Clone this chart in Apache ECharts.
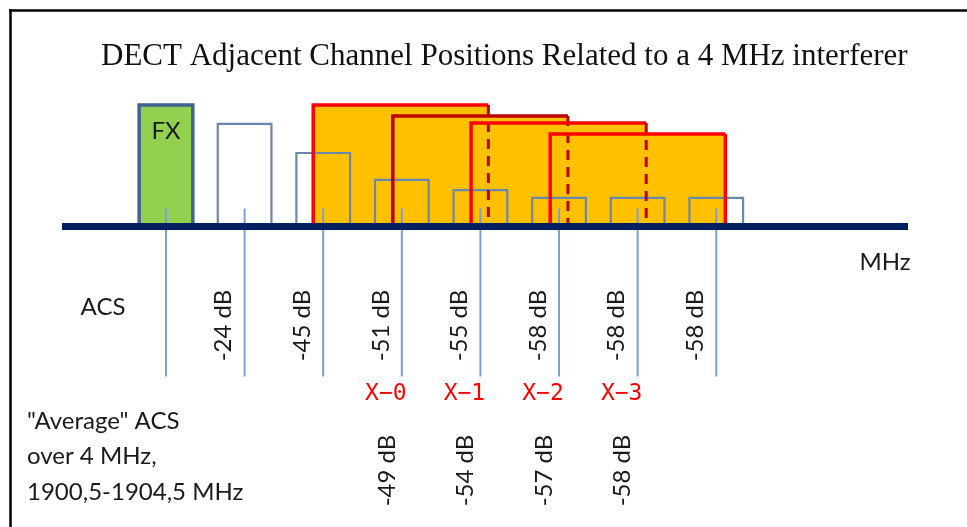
<!DOCTYPE html>
<html>
<head>
<meta charset="utf-8">
<title>DECT Adjacent Channel Positions</title>
<script src="https://cdn.jsdelivr.net/npm/echarts@6/dist/echarts.min.js"></script>
<style>
  html, body { margin: 0; padding: 0; background: #fff; }
  #chart { width: 967px; height: 527px; }
</style>
</head>
<body>
<div id="chart"></div>
<script>
// DECT carriers (MHz): FX plus the adjacent channels above it
const channelFreqs = [1897.344, 1899.072, 1900.800, 1902.528, 1904.256, 1905.984, 1907.712, 1909.440]
// relative drawn level of each channel block (FX = 100)
const channelLevels = [100, 84.4, 60.5, 38.3, 30, 23.5, 23.5, 23.5]
const channelWidth = 1.18
const acsLabels = ['', '-24 dB', '-45 dB', '-51 dB', '-55 dB', '-58 dB', '-58 dB', '-58 dB']

// 4 MHz interferer positions
const interfererNames = ['X\u22120', 'X\u22121', 'X\u22122', 'X\u22123']
const interfererStart = [1900.58, 1902.33, 1904.05, 1905.79]
const interfererWidth = 3.85
const interfererLevels = [100, 90.9, 85.2, 76.1]
const interfererChannel = [3, 4, 5, 6]
const avgAcsLabels = ['-49 dB', '-54 dB', '-57 dB', '-58 dB']

const sansFont = 'Lato, "Liberation Sans", sans-serif'
const textColor = '#1a1a1a'
const blueLine = '#78a0d4'
const boxLine = '#6a88ae'

const chart = echarts.init(document.getElementById('chart'))

// orange fills of the interferers
const renderInterfererFill = (params, api) => {
  const p0 = api.coord([api.value(0), api.value(2)])
  const p1 = api.coord([api.value(1), 0])
  return {
    type: 'rect',
    shape: { x: p0[0], y: p0[1], width: p1[0] - p0[0], height: p1[1] - p0[1] },
    style: { fill: '#ffc000' }
  }
}

// red outlines, right edge dashed where it is covered by the next position
const strokeColors = ['#ff0000', '#c00000', '#ff0000', '#ff0000']
const renderInterfererEdge = (params, api) => {
  const i = params.dataIndex
  const p0 = api.coord([api.value(0), api.value(2)])
  const p1 = api.coord([api.value(1), 0])
  const last = i === interfererStart.length - 1
  const ch = api.coord([channelFreqs[interfererChannel[i]], 0])
  return {
    type: 'group',
    children: [
      {
        type: 'polyline',
        shape: { points: [[p0[0], p1[1]], [p0[0], p0[1]], [p1[0], p0[1]]] },
        style: { stroke: strokeColors[i], lineWidth: 3.5, fill: null }
      },
      {
        type: 'line',
        shape: { x1: p1[0], y1: p0[1], x2: p1[0], y2: p1[1] },
        style: last
          ? { stroke: strokeColors[i], lineWidth: 3.5 }
          : { stroke: '#c00000', lineWidth: 3, lineDash: [10, 7] }
      },
      {
        type: 'text',
        x: ch[0] - 16,
        y: ch[1] + 168,
        style: {
          text: interfererNames[i], fill: '#ff0000',
          font: '23px "DejaVu Sans Mono", monospace',
          align: 'center', verticalAlign: 'middle'
        }
      },
      {
        type: 'text',
        x: ch[0] - 15,
        y: ch[1] + 244,
        rotation: Math.PI / 2,
        style: {
          text: avgAcsLabels[i], fill: textColor,
          font: '24px ' + sansFont,
          align: 'center', verticalAlign: 'middle'
        }
      }
    ]
  }
}

// channel blocks with centre marks and ACS labels
const renderChannel = (params, api) => {
  const i = params.dataIndex
  const f = api.value(0)
  const p0 = api.coord([f - channelWidth / 2, api.value(1)])
  const p1 = api.coord([f + channelWidth / 2, 0])
  const c = api.coord([f, 0])
  const isFx = i === 0
  const children = [
    {
      type: 'rect',
      shape: { x: p0[0], y: p0[1], width: p1[0] - p0[0], height: p1[1] - p0[1] },
      style: isFx
        ? { fill: '#92d050', stroke: '#41638f', lineWidth: 3.5 }
        : { fill: null, stroke: boxLine, lineWidth: 2.2 }
    },
    {
      type: 'line',
      shape: { x1: c[0], y1: c[1] - 18, x2: c[0], y2: c[1] },
      style: { stroke: blueLine, lineWidth: 2 }
    },
    {
      type: 'line',
      shape: { x1: c[0], y1: c[1], x2: c[0], y2: c[1] + 150 },
      style: { stroke: blueLine, lineWidth: 2 }
    }
  ]
  if (isFx) {
    children.push({
      type: 'text', x: c[0], y: p0[1] + 26,
      style: { text: 'FX', fill: textColor, font: '24px ' + sansFont, align: 'center', verticalAlign: 'middle' }
    })
  }
  if (acsLabels[i]) {
    children.push({
      type: 'text', x: c[0] - 21, y: c[1] + 99, rotation: Math.PI / 2,
      style: { text: acsLabels[i], fill: textColor, font: '24px ' + sansFont, align: 'center', verticalAlign: 'middle' }
    })
  }
  return { type: 'group', children }
}

const interfererData = interfererStart.map((s, i) => [s, s + interfererWidth, interfererLevels[i]])
const channelData = channelFreqs.map((f, i) => [f, channelLevels[i]])

chart.setOption({
  animation: false,
  backgroundColor: '#fff',
  title: {
    text: 'DECT Adjacent Channel Positions Related to a 4 MHz interferer',
    left: 96,
    top: 36,
    textStyle: { fontFamily: '"Liberation Serif", serif', fontSize: 31, fontWeight: 'normal', color: '#111' }
  },
  grid: { left: 62, right: 59, top: 105, bottom: 300.5 },
  xAxis: {
    type: 'value',
    min: 1895.058,
    max: 1913.655,
    z: 10,
    axisLine: { show: true, onZero: true, lineStyle: { color: '#002060', width: 7, cap: 'butt' } },
    axisTick: { show: false },
    axisLabel: { show: false },
    splitLine: { show: false }
  },
  yAxis: {
    type: 'value',
    min: 0,
    max: 100,
    show: false
  },
  graphic: [
    { type: 'line', shape: { x1: 9, y1: 10.5, x2: 967, y2: 10.5 }, style: { stroke: '#000', lineWidth: 2.5 } },
    { type: 'line', shape: { x1: 10.5, y1: 9, x2: 10.5, y2: 527 }, style: { stroke: '#000', lineWidth: 2.5 } },
    { type: 'text', x: 103, y: 307, style: { text: 'ACS', fill: textColor, font: '24px ' + sansFont, align: 'center', verticalAlign: 'middle' } },
    { type: 'text', x: 885, y: 262, style: { text: 'MHz', fill: textColor, font: '24px ' + sansFont, align: 'center', verticalAlign: 'middle' } },
    { type: 'text', x: 27, y: 421, style: { text: '"Average" ACS', fill: textColor, font: '24px ' + sansFont, verticalAlign: 'middle' } },
    { type: 'text', x: 27, y: 456, style: { text: 'over 4 MHz,', fill: textColor, font: '24px ' + sansFont, verticalAlign: 'middle' } },
    { type: 'text', x: 27, y: 492, style: { text: '1900,5-1904,5 MHz', fill: textColor, font: '24px ' + sansFont, verticalAlign: 'middle' } }
  ],
  series: [
    { type: 'custom', name: 'interferer fill', z: 2, clip: false, renderItem: renderInterfererFill, data: interfererData },
    { type: 'custom', name: 'channels', z: 3, clip: false, renderItem: renderChannel, data: channelData },
    { type: 'custom', name: 'interferer edge', z: 4, clip: false, renderItem: renderInterfererEdge, data: interfererData }
  ]
})
</script>
</body>
</html>
